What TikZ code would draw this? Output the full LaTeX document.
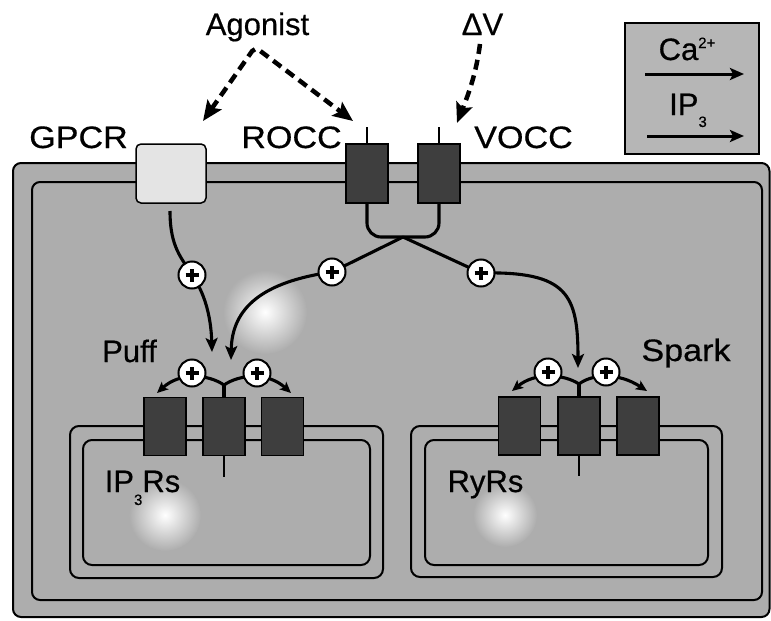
\documentclass[tikz,border=0pt]{standalone}
\usepackage{fontspec}
\setmainfont{Liberation Sans}
\newfontfamily\labfam{Liberation Sans}[FakeBold=0.5]
\usetikzlibrary{arrows.meta}
\definecolor{cellgray}{HTML}{ADADAD}
\definecolor{leggray}{HTML}{B6B6B6}
\definecolor{gpcrfill}{HTML}{E4E4E4}
\definecolor{chanfill}{HTML}{3E3E3E}
\newcommand\labfont{\labfam\fontsize{31}{34}\selectfont}
\newcommand\smallfont{\fontsize{15}{16}\selectfont}
\begin{document}
\begin{tikzpicture}[x=1pt,y=-1pt,
  cellline/.style={line width=2pt, draw=black},
  conn/.style={line width=3.1pt, draw=black},
  stalk/.style={line width=2.8pt, draw=black},
  tipA/.style={-{Stealth[length=14pt,width=12pt,inset=3pt]}},
  tipB/.style={-{Stealth[length=11pt,width=10pt,inset=2.5pt]}},
  dasharr/.style={line width=4.5pt, dash pattern=on 10pt off 6pt},
  chan/.style={draw=black, line width=1.5pt, fill=chanfill, minimum width=42pt, minimum height=58pt, inner sep=0pt},
  gpcrbox/.style={draw=black, line width=1.5pt, fill=gpcrfill, rounded corners=5pt, minimum width=70pt, minimum height=59pt, inner sep=0pt},
  plusc/.style={circle, draw=black, line width=2pt, fill=white, minimum size=27pt, inner sep=0pt,
    path picture={\draw[line width=3.4pt] ([xshift=-6.5pt]path picture bounding box.center) -- ([xshift=6.5pt]path picture bounding box.center) ([yshift=-6.5pt]path picture bounding box.center) -- ([yshift=6.5pt]path picture bounding box.center);}},
  txt/.style={font=\labfont, inner sep=0pt, anchor=base}
]
\useasboundingbox (0,0) rectangle (771,621);
\fill[white] (0,0) rectangle (771,621);

% cell
\draw[cellline, fill=cellgray, rounded corners=8pt] (13,163) rectangle (769.5,617);
\shade[inner color=white, outer color=cellgray] (265,312) circle (42);
\shade[inner color=white, outer color=cellgray] (165,515) circle (36);
\shade[inner color=white, outer color=cellgray] (505,515) circle (32);
\draw[cellline, rounded corners=8pt] (32,182) rectangle (762,600);

% SR compartments
\draw[cellline, rounded corners=9pt] (70,426) rectangle (383,578);
\draw[cellline, rounded corners=9pt] (83,440) rectangle (370,565);
\draw[cellline, rounded corners=9pt] (411,426) rectangle (722,577);
\draw[cellline, rounded corners=9pt] (425,440) rectangle (708,565);

% plasma membrane proteins
\node[gpcrbox] (gpcr) at (171,173.5) {};
\node[chan, minimum height=59pt] (rocc) at (367,173.5) {};
\node[chan, minimum height=59pt] (vocc) at (439,173.5) {};
\draw[stalk] (rocc.north) -- ++(0,-16);
\draw[stalk] (vocc.north) -- ++(0,-16);

% SR channels
\node[chan] (ip1) at (165,426.5) {};
\node[chan] (ip2) at (224,426.5) {};
\node[chan] (ip3) at (282.5,426.5) {};
\node[chan] (ry1) at (519.5,426) {};
\node[chan] (ry2) at (579,426) {};
\node[chan] (ry3) at (638,426) {};
\draw[stalk] (ip2.south) -- ++(0,21);
\draw[stalk] (ry2.south) -- ++(0,20);

% coordinates
\coordinate (c1) at (192,275);
\coordinate (c2) at (332,272);
\coordinate (c3) at (481,273);
\coordinate (c4) at (192,373);
\coordinate (c5) at (257,373);
\coordinate (c6) at (548,372);
\coordinate (c7) at (606,372);
\coordinate (junc) at (403,237);
\coordinate (g0) at (170,211);
\coordinate (t1) at (212,352);
\coordinate (t2) at (231,360);
\coordinate (t3) at (578,368);
\coordinate (j1) at (224,385);
\coordinate (j2) at (579,384);
\coordinate (a1) at (157,393);
\coordinate (a2) at (291,393);
\coordinate (a3) at (512,391);
\coordinate (a4) at (647,391);

% connectors
\draw[conn, rounded corners=14pt] (rocc.south) -- (367,237) -- (439,237) -- (vocc.south);
\draw[conn, tipA] (g0) .. controls (170,248) and (182,258) .. (c1) .. controls (204,292) and (211,315) .. (t1);
\draw[conn, tipA] (junc) -- (c2) .. controls (262,282) and (232,308) .. (t2);
\draw[conn, tipA] (junc) -- (c3) .. controls (568,271) and (578,295) .. (t3);
\draw[conn] (ip2.north) -- (j1);
\draw[conn, tipB] (j1) .. controls (208,374) and (180,372) .. (a1);
\draw[conn, tipB] (j1) .. controls (240,374) and (268,372) .. (a2);
\draw[conn] (ry2.north) -- (j2);
\draw[conn, tipB] (j2) .. controls (564,374) and (535,372) .. (a3);
\draw[conn, tipB] (j2) .. controls (592,374) and (618,372) .. (a4);

% plus signs
\node[plusc] (p1) at (c1) {};
\node[plusc] (p2) at (c2) {};
\node[plusc] (p3) at (c3) {};
\node[plusc] (p4) at (c4) {};
\node[plusc] (p5) at (c5) {};
\node[plusc] (p6) at (c6) {};
\node[plusc] (p7) at (c7) {};

% labels
\node[txt] (ag) at (257.5,35) {Agonist};
\node[txt] (dv) at (482.5,35) {ΔV};
\node[txt] (gl) at (78.5,148) {\scalebox{1.1}[1]{GPCR}};
\node[txt] (rl) at (291.5,148) {\scalebox{1.1}[1]{ROCC}};
\node[txt] (vl) at (523.5,148) {\scalebox{1.1}[1]{VOCC}};
\node[txt] (puff) at (129.5,362) {Puff};
\node[txt] (spark) at (686,361) {\scalebox{1.1}[1]{Spark}};
\node[txt] (ip3l) at (142.5,492) {IP\raisebox{-13pt}{\smallfont 3}Rs};
\node[txt] (ryl) at (485.5,492) {RyRs};

% dashed stimulus arrows
\coordinate (apex) at (255,47);
\coordinate (agt) at (203,121);
\coordinate (rot) at (353,121);
\coordinate (dv0) at (480,44);
\coordinate (dvt) at (457,123);
\draw[dasharr, rounded corners=5pt, {Stealth[length=20pt,width=17pt,inset=4pt]}-{Stealth[length=20pt,width=17pt,inset=4pt]}] (agt) -- (apex) -- (rot);
\draw[dasharr, -{Stealth[length=20pt,width=17pt,inset=4pt]}] (dv0) .. controls (476,75) and (468,95) .. (dvt);

% legend
\draw[line width=2pt, fill=leggray] (625,23) rectangle (759,154);
\node[txt] (ca) at (687,60) {Ca\raisebox{12pt}{\smallfont 2+}};
\coordinate (l1a) at (645,74);
\coordinate (l1b) at (744,74);
\draw[line width=3pt, tipA] (l1a) -- (l1b);
\node[txt] (ipl) at (688,115) {IP\raisebox{-12pt}{\smallfont 3}};
\coordinate (l2a) at (647,136);
\coordinate (l2b) at (744,136);
\draw[line width=3pt, tipA] (l2a) -- (l2b);
\end{tikzpicture}
\end{document}
